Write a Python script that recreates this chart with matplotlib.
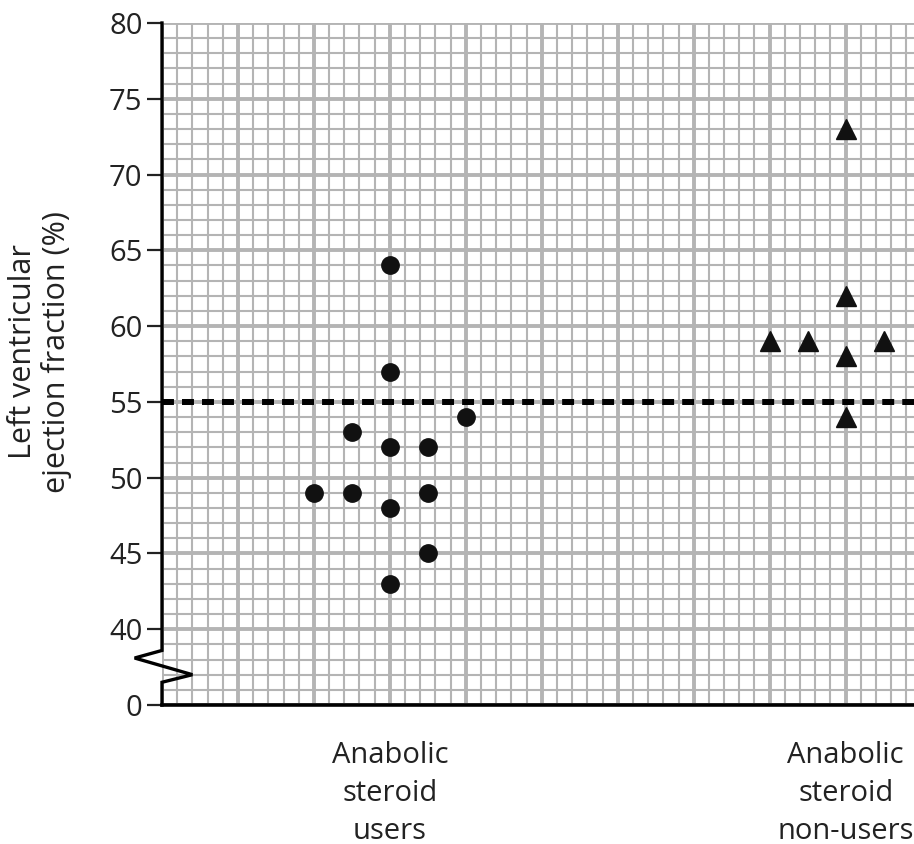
import numpy as np
import matplotlib.pyplot as plt
from matplotlib.transforms import blended_transform_factory

plt.rcParams['font.family'] = ['Open Sans', 'DejaVu Sans']

# data (x = position in grid cells, y = ejection fraction %)
users_x = [10, 12.5, 12.5, 15, 15, 15, 15, 15, 17.5, 17.5, 17.5, 20]
users_y = [49, 53, 49, 64, 57, 52, 48, 43, 52, 49, 45, 54]
non_users_x = [40, 42.5, 45, 45, 45, 45, 47.5]
non_users_y = [59, 59, 73, 62, 58, 54, 59]
threshold = 55

y_ticks = [35, 40, 45, 50, 55, 60, 65, 70, 75, 80]
y_tick_labels = ['0', '40', '45', '50', '55', '60', '65', '70', '75', '80']
group_x = [15, 45]
group_labels = ['Anabolic\nsteroid\nusers', 'Anabolic\nsteroid\nnon-users']

fig = plt.figure(figsize=(9.14, 8.44), dpi=100)
ax = fig.add_axes([162 / 914, 139 / 844, 1 - 162 / 914, 682 / 844])
ax.set_xlim(0, 49.5)
ax.set_ylim(35, 80)

grid_col = '#b4b4b4'
for gx in np.arange(0, 50, 1):
    ax.axvline(gx, color=grid_col, lw=2.8 if gx % 5 == 0 else 1.5, zorder=0)
for gy in np.arange(35, 81, 1):
    ax.axhline(gy, color=grid_col, lw=2.8 if gy % 5 == 0 else 1.5, zorder=0)

ax.axhline(threshold, color='black', lw=4.3, linestyle=(0, (2.0, 1.35)), zorder=2)

ax.plot(users_x, users_y, 'o', color='#111111', markersize=12.5, zorder=3)
ax.plot(non_users_x, non_users_y, '^', color='#111111', markersize=14, zorder=3)

for s in ['top', 'right', 'left']:
    ax.spines[s].set_visible(False)
ax.spines['bottom'].set_linewidth(2.6)
ax.spines['bottom'].set_zorder(5)

# left axis with break
ax.plot([0, 0, -1.8, 2.0, 0, 0], [80, 38.6, 38.1, 37.0, 36.5, 35],
        color='black', lw=2.4, clip_on=False, zorder=5, solid_joinstyle='miter')

ax.set_yticks(y_ticks)
ax.set_yticklabels(y_tick_labels)
ax.tick_params(axis='y', length=11, width=1.6, labelsize=21, pad=3, colors='#222222')
ax.set_xticks([])

trans = blended_transform_factory(ax.transData, ax.transAxes)
for gx, lab in zip(group_x, group_labels):
    ax.text(gx, -0.053, lab, transform=trans, ha='center', va='top',
            fontsize=21, linespacing=1.4, color='#222222')

fig.text(40 / 914, (844 - 352) / 844, 'Left ventricular\nejection fraction (%)',
         rotation=90, ha='center', va='center', fontsize=22, color='#222222',
         linespacing=1.1)

fig.savefig('out.png', dpi=100)
